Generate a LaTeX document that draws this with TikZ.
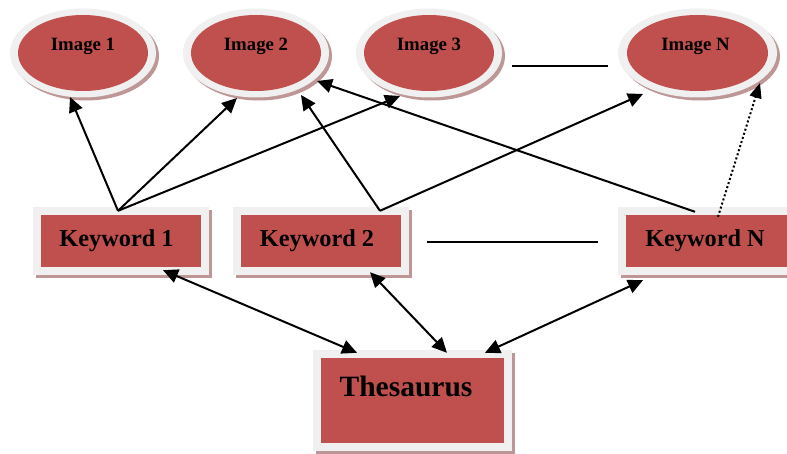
\documentclass[tikz,border=0pt]{standalone}
\usepackage{fontspec}
\setmainfont{Liberation Serif}
\usetikzlibrary{shapes.geometric,shadows,calc,arrows.meta}
\definecolor{kred}{HTML}{C0504D}
\definecolor{kring}{HTML}{F0F0F0}
\definecolor{kshadow}{RGB}{190,150,150}
\tikzset{
  myshadow/.style={drop shadow={shadow xshift=3pt,shadow yshift=-3pt,fill=kshadow,opacity=1}},
  imgnode/.style={ellipse,inner sep=0pt,fill=kring,myshadow,
    minimum width=146pt,minimum height=89pt,
    font=\bfseries\fontsize{18.8}{20}\selectfont,text height=10pt,text depth=14pt,
    path picture={\fill[kred] (path picture bounding box.center) ellipse [x radius=#1,y radius=38pt];}},
  imgnode/.default=65pt,
  boxnode/.style={rectangle,inner sep=0pt,fill=kring,myshadow,
    path picture={\fill[kred] ([shift={(8pt,8pt)}]path picture bounding box.south west) rectangle ([shift={(-8pt,-8pt)}]path picture bounding box.north east);}},
  kwnode/.style={boxnode,minimum width=176pt,minimum height=68pt,
    font=\bfseries\fontsize{24.3}{26}\selectfont,text height=16pt,text depth=5pt},
  conn/.style={line width=2pt,-{Triangle[length=15pt,width=14pt]}},
  dconn/.style={line width=2pt,{Triangle[length=15pt,width=14pt]}-{Triangle[length=15pt,width=14pt]}},
  dotconn/.style={line width=2pt,dash pattern=on 2pt off 2.3pt,-{Triangle[length=15pt,width=12pt]}},
  plain/.style={line width=1.5pt}
}
\begin{document}
\begin{tikzpicture}[x=1pt,y=-1pt]
\useasboundingbox[fill=white] (0,0) rectangle (787,454);
% images
\node[imgnode] (img1) at (83,53) {Image 1};
\node[imgnode] (img2) at (256,53) {Image 2};
\node[imgnode] (img3) at (429,53) {Image 3};
\node[imgnode=70.5pt,minimum width=159pt] (imgN) at (697.5,53) {Image N\kern4pt};
% keywords
\node[kwnode] (k1) at (121,241) {Keyword 1\kern9pt};
\node[kwnode] (k2) at (320.5,241) {Keyword 2\kern7pt};
\node[kwnode,minimum width=177pt] (kN) at (706.5,241) {Keyword N\kern3pt};
% thesaurus
\node[boxnode,minimum width=199pt,minimum height=101pt,
  font=\bfseries\fontsize{29.5}{32}\selectfont,text height=20pt,text depth=28pt] (th) at (412.5,400.5) {Thesaurus\kern13pt};
% plain separators
\draw[plain] ($(img3.east)+(10,13)$) -- ($(imgN.west)+(-10,13)$);
\draw[plain] ($(k2.east)+(18,1)$) -- ($(kN.west)+(-20,1)$);
% keyword -> image arrows
\draw[conn] ($(k1.north)+(-3,4)$) -- ($(img1.center)+(-13,44)$);
\draw[conn] ($(k1.north)+(-3,4)$) -- ($(img2.center)+(-19,45)$);
\draw[conn] ($(k1.north)+(-3,4)$) -- ($(img3.center)+(-29,43)$);
\draw[conn] ($(k2.north)+(59.5,4)$) -- ($(img2.center)+(45,42)$);
\draw[conn] ($(k2.north)+(59.5,4)$) -- ($(imgN.center)+(-54.5,41)$);
\draw[conn] ($(kN.north)+(-11.5,5)$) -- ($(img2.center)+(61,28)$);
\draw[dotconn] ($(kN.north)+(11.5,10)$) -- ($(imgN.center)+(62.5,30)$);
% thesaurus arrows
\draw[dconn] ($(k1.south)+(42,-5)$) -- ($(th.north)+(-55.5,3)$);
\draw[dconn] ($(k2.south)+(49.5,-3)$) -- ($(th.north)+(34.5,3)$);
\draw[dconn] ($(kN.south)+(-63.5,5)$) -- ($(th.north)+(72.5,3)$);
\end{tikzpicture}
\end{document}
